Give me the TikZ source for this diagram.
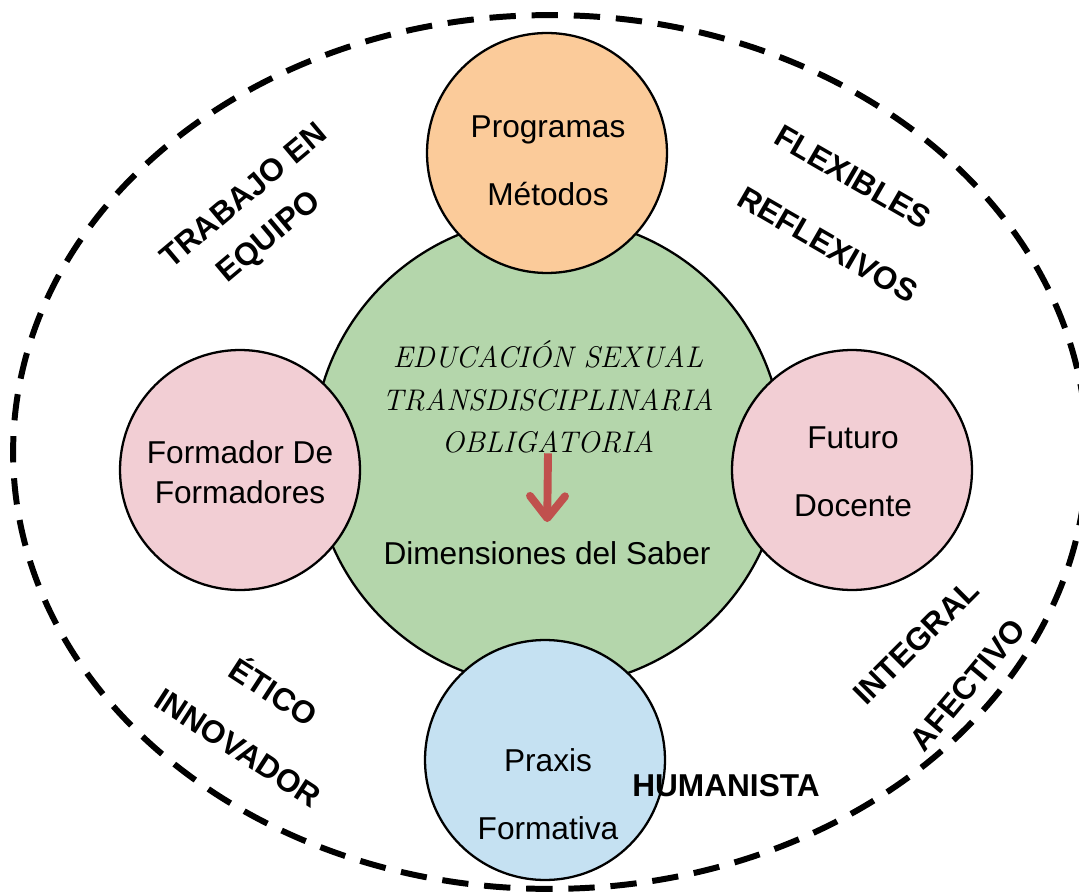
\documentclass[tikz,border=0pt]{standalone}
\usepackage{fontspec}
\setsansfont{Liberation Sans}
\renewcommand{\familydefault}{\sfdefault}
\usetikzlibrary{arrows.meta}
\definecolor{naranja}{HTML}{FBCB9A}
\definecolor{verde}{HTML}{B4D6AB}
\definecolor{rosa}{HTML}{F2CED4}
\definecolor{celeste}{HTML}{C5E1F2}
\definecolor{rojo}{HTML}{C0504D}
\begin{document}
\begin{tikzpicture}[x=0.02cm, y=-0.02cm,
  circulo/.style={circle, draw=black, line width=1.3pt, inner sep=0pt},
  chico/.style={circulo, minimum size=4.8cm},
  texto/.style={align=center, inner sep=0pt, font=\fontsize{18}{38.7}\selectfont},
  palabra/.style={inner sep=0pt, font=\bfseries\fontsize{18}{20}\selectfont},
  flecha/.style={draw=rojo, line width=4.5pt, -{Straight Barb[length=0.44cm, width=0.7cm, round]}}]
  \useasboundingbox (0,0) rectangle (1079,895);
  % borde punteado
  \draw[line width=3.4pt, dash pattern=on 15pt off 9pt] (550,452) ellipse [x radius=10.74cm, y radius=8.74cm];
  % circulos
  \node[circulo, fill=verde, minimum size=9.4cm] (centro) at (548,452) {};
  \node[chico, fill=naranja] (arriba) at (547,153) {};
  \node[chico, fill=rosa] (izquierda) at (240,470) {};
  \node[chico, fill=rosa] (derecha) at (852,470) {};
  \node[chico, fill=celeste] (abajo) at (545,760) {};
  % textos de los circulos
  \node[texto] (programas) at (548,161) {Programas\\Métodos};
  \node[texto, font=\fontsize{18}{22.8}\selectfont] (formador) at (240,472) {Formador De\\Formadores};
  \node[texto] (futuro) at (853,472) {Futuro\\Docente};
  \node[texto] (praxis) at (548,794) {Praxis\\Formativa};
  \node[align=center, inner sep=0pt, font=\rmfamily\itshape\fontsize{17}{24}\selectfont] (titulo) at (548,397)
    {EDUCACIÓN SEXUAL\\TRANSDISCIPLINARIA\\OBLIGATORIA};
  \node[texto] (saber) at (547,553) {Dimensiones del Saber};
  \draw[flecha, shorten >=0.38cm] (titulo.south) -- (saber.north);
  % palabras alrededor
  \node[palabra, rotate=40] (trabajo) at (243,195) {TRABAJO EN};
  \node[palabra, rotate=40] (equipo) at (270,238) {EQUIPO};
  \node[palabra, rotate=-30] (flexibles) at (853,177) {FLEXIBLES};
  \node[palabra, rotate=-30] (reflexivos) at (828,245) {REFLEXIVOS};
  \node[palabra, rotate=-33] (etico) at (275,690) {ÉTICO};
  \node[palabra, rotate=-33] (innovador) at (238,748) {INNOVADOR};
  \node[palabra, rotate=45] (integral) at (916,642) {INTEGRAL};
  \node[palabra, rotate=50] (afectivo) at (968,685) {AFECTIVO};
  \node[palabra] (humanista) at (726,786) {HUMANISTA};
\end{tikzpicture}
\end{document}
